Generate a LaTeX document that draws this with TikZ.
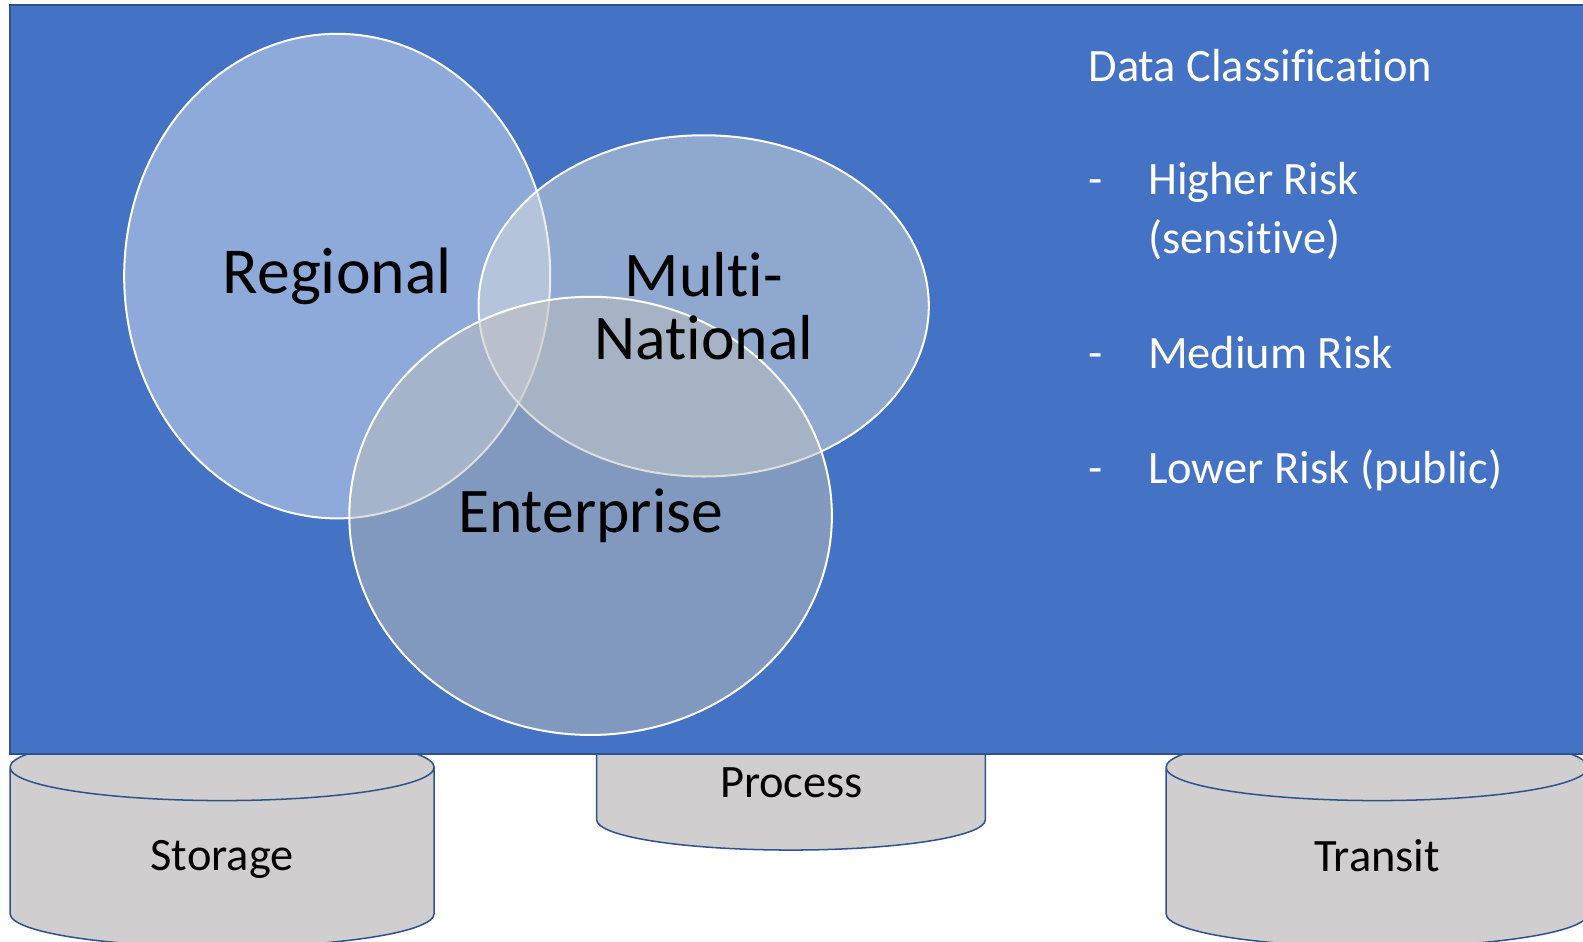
\documentclass[tikz,border=0pt]{standalone}
\usepackage{fontspec}
\setmainfont{Carlito}[RawFeature={-liga;-clig;-calt;-dlig}]
\usetikzlibrary{shapes.geometric}
\definecolor{slideblue}{HTML}{4472C4}
\definecolor{edgeblue}{HTML}{2F528F}
\definecolor{drumgray}{HTML}{D0CECE}
\definecolor{regfill}{RGB}{255,255,255}
\definecolor{multifill}{RGB}{218,222,220}
\definecolor{entfill}{RGB}{190,190,188}
\begin{document}
\begin{tikzpicture}[x=1pt,y=1pt,
    venn/.style={ellipse, draw=white, line width=2pt, fill opacity=0.5, inner sep=0pt},
    big/.style={font=\fontsize{63}{62}\selectfont, align=center, inner sep=0pt},
    side/.style={font=\fontsize{46}{56}\selectfont, text=white, inner sep=0pt, anchor=base west},
    drumtext/.style={font=\fontsize{46}{56}\selectfont, inner sep=0pt}]
    \useasboundingbox (0,0) rectangle (1568,933);
    \foreach \cx/\rx/\yt/\yb/\ry in {220/210/173/28/33, 783.5/192.5/230/121/30, 1364/209/173/28/33}
        \draw[edgeblue, line width=1.5pt, fill=drumgray]
            (\cx-\rx,\yt) -- (\cx-\rx,\yb) arc (180:360:\rx pt and \ry pt) -- (\cx+\rx,\yt) arc (0:180:\rx pt and \ry pt) -- cycle
            (\cx-\rx,\yt) arc (180:360:\rx pt and \ry pt);
    \draw[edgeblue, line width=1.5pt, fill=slideblue] (10,186) rectangle (1580,928);
    \node[venn, fill=regfill, fill opacity=0.4, minimum width=422pt, minimum height=480pt] (regional) at (334,659.5) {};
    \node[venn, fill=multifill, minimum width=446pt, minimum height=338pt] (multi) at (697,630) {};
    \node[venn, fill=entfill, minimum width=478pt, minimum height=434pt] (enterprise) at (585,422) {};
    \node[big, font=\fontsize{65}{62}\selectfont] (reglabel) at (regional.center) {Regional};
    \node[big] (multilabel) at (multi.center) {Multi-\\National};
    \node[big] (entlabel) at (enterprise.center) {Enterprise};
    \node[side] (title) at (1078,852) {Data Classification};
    \node[side] (dash1) at (1078,740) {-};
    \node[side] (high) at (1137,740) {Higher Risk};
    \node[side] (high2) at (1137,682) {(sensitive)};
    \node[side] (dash2) at (1078,568) {-};
    \node[side] (medium) at (1137,568) {Medium Risk};
    \node[side] (dash3) at (1078,454) {-};
    \node[side] (low) at (1137,454) {Lower Risk (public)};
    \node[drumtext] (storage) at (220,82) {Storage};
    \node[drumtext] (process) at (784,158) {Process};
    \node[drumtext] (transit) at (1364,85) {Transit};
\end{tikzpicture}
\end{document}
